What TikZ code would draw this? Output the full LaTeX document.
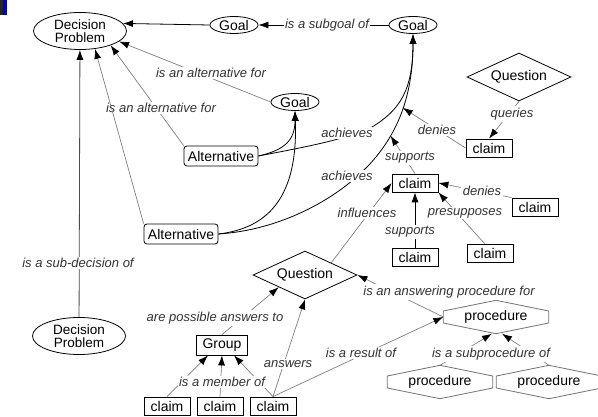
\documentclass[tikz,border=0pt]{standalone}
\usepackage{fontspec}
\setmainfont{Liberation Sans}
\usetikzlibrary{arrows.meta,shapes.geometric,calc}
\def\decnode{\node[dec]}
\def\goalnode{\node[goal]}
\def\altnode{\node[alt]}
\def\quesnode{\node[ques]}
\def\claimnode{\node[claim]}
\def\procnode{\node[proc]}
\def\drawlink{\draw[link]}
\def\drawgrey{\draw[greylink]}
\def\drawhex#1{\draw[hexline] ($(#1.west)+(0,-6)$) -- (#1.north) -- ($(#1.east)+(0,-6)$) -- ($(#1.east)+(0,6)$) -- (#1.south) -- ($(#1.west)+(0,6)$) -- cycle;}

\begin{document}
\begin{tikzpicture}[x=1pt,y=-1pt,font=\fontsize{14}{12}\selectfont,
  dec/.style={ellipse,draw=black,line width=0.8pt,inner sep=0pt,minimum width=93pt,minimum height=37pt,align=center,font=\fontsize{13.5}{13.5}\selectfont},
  goal/.style={ellipse,draw=black,line width=0.8pt,inner sep=0pt,minimum width=48pt,minimum height=17pt},
  alt/.style={rectangle,rounded corners=3pt,draw=black,line width=0.8pt,inner sep=0pt,minimum width=74pt,minimum height=20pt},
  ques/.style={diamond,aspect=2.2,draw=black,line width=0.8pt,inner sep=0pt,minimum width=104pt,minimum height=48pt},
  claim/.style={rectangle,draw=black,line width=0.8pt,inner sep=0pt,minimum width=46pt,minimum height=18pt},
  proc/.style={inner sep=0pt,minimum width=105pt,minimum height=33pt},
  hexline/.style={draw=black!55,line width=0.8pt},
  lab/.style={fill=white,inner sep=1.5pt,text=black!80,font=\fontsize{13}{14}\selectfont\itshape},
  link/.style={draw=black,line width=0.8pt,-{Latex[length=10pt,width=7pt]}},
  greylink/.style={draw=black!50,line width=0.7pt,-{Latex[length=10pt,width=7pt,color=black]}}]
\useasboundingbox (0,0) rectangle (598,417);
\fill[white] (0,0) rectangle (598,417);
\fill[black!85] (0,0) rectangle (3,15);
\fill[blue!75!black] (3,0) rectangle (7,15);

\decnode (dp) at (80,31) {Decision\\Problem};
\decnode (subdp) at (79,336) {Decision\\Problem};
\goalnode (goala) at (234,25) {Goal};
\goalnode (goalb) at (413,25) {Goal};
\goalnode (goalc) at (295,102) {Goal};
\altnode (alta) at (221,156) {Alternative};
\altnode (altb) at (181,234) {Alternative};
\quesnode (quesa) at (519,77) {Question};
\quesnode (quesb) at (305,275) {Question};
\claimnode (cdeny) at (489,148) {claim};
\claimnode (csup) at (415,183) {claim};
\claimnode (cden) at (535,207) {claim};
\claimnode (cpre) at (490,253) {claim};
\claimnode (cbase) at (415,257) {claim};
\claimnode (grp) [minimum width=51pt,minimum height=20pt] at (222,345) {Group};
\claimnode (ma) at (167,406) {claim};
\claimnode (mb) at (220,406) {claim};
\claimnode (mc) at (273,406) {claim};
\procnode (proca) at (496,317) {procedure};
\procnode (procb) at (440,382) {procedure};
\procnode (procc) at (549,382) {procedure};
\drawhex{proca}
\drawhex{procb}
\drawhex{procc}

\drawlink (goala.west) -- (dp.10);
\drawlink (goalb.west) -- (goala.east) node[lab] at (327,25) {is a subgoal of};
\drawgrey (goalc.west) -- (dp.-15) node[lab] at (211,73) {is an alternative for};
\drawgrey (alta.north west) -- (dp.-25) node[lab] at (161,108) {is an alternative for};
\drawgrey (altb.north west) -- (dp.-50);
\drawgrey[draw=black!70,line width=0.8pt] (subdp) -- (dp) node[lab] at (78,263) {is a sub-decision of};

\drawlink (alta.east) .. controls (285,150) and (295,140) .. (goalc.south);
\drawlink (altb.east) .. controls (270,228) and (298,195) .. (goalc.south);
\drawlink (alta.east) .. controls (300,148) and (345,140) .. (372,127) .. controls (400,110) and (413,90) .. (goalb.south) node[lab] at (347,133) {achieves};
\drawlink (altb.east) .. controls (280,230) and (335,200) .. (367,167) .. controls (395,138) and (413,100) .. (goalb.south) coordinate[pos=0.32] (onsup) coordinate[pos=0.55] (onden) node[lab] at (347,176) {achieves};

\drawgrey (quesa.south) -- (cdeny.north) node[lab] at (512,114) {queries};
\drawgrey (cdeny.west) -- (onden) node[lab] at (437,130) {denies};
\drawgrey (csup.north) -- (onsup) node[lab] at (410,158) {supports};
\drawgrey (cden.north west) -- (csup.east) node[lab] at (482,191) {denies};
\drawgrey (cpre.120) -- (csup.south east) node[lab] at (465,213) {presupposes};
\drawlink (cbase) -- (csup) node[lab] at (410,232) {supports};
\drawgrey (quesb.north east) -- (csup.west) node[lab] at (367,213) {influences};

\drawgrey (grp.north) -- (quesb.south west) node[lab] at (215,318) {are possible answers to};
\drawgrey (ma.north) -- ($(grp.south)+(-14,0)$);
\drawgrey (mb.north) -- (grp.south);
\drawgrey (mc.north) -- ($(grp.south)+(12,0)$) node[lab] at (222,382) {is a member of};
\drawgrey (mc.north) -- (quesb.south) node[lab] at (288,364) {answers};
\drawgrey (mc.north) -- (proca.west) node[lab] at (361,353) {is a result of};
\drawgrey (proca.west) -- (quesb.east) node[lab] at (449,292) {is an answering procedure for};
\drawgrey (procb.north) -- ($(proca.south)+(-4,0)$);
\drawgrey (procc.north) -- ($(proca.south)+(6,0)$) node[lab] at (491,354) {is a subprocedure of};
\end{tikzpicture}
\end{document}
